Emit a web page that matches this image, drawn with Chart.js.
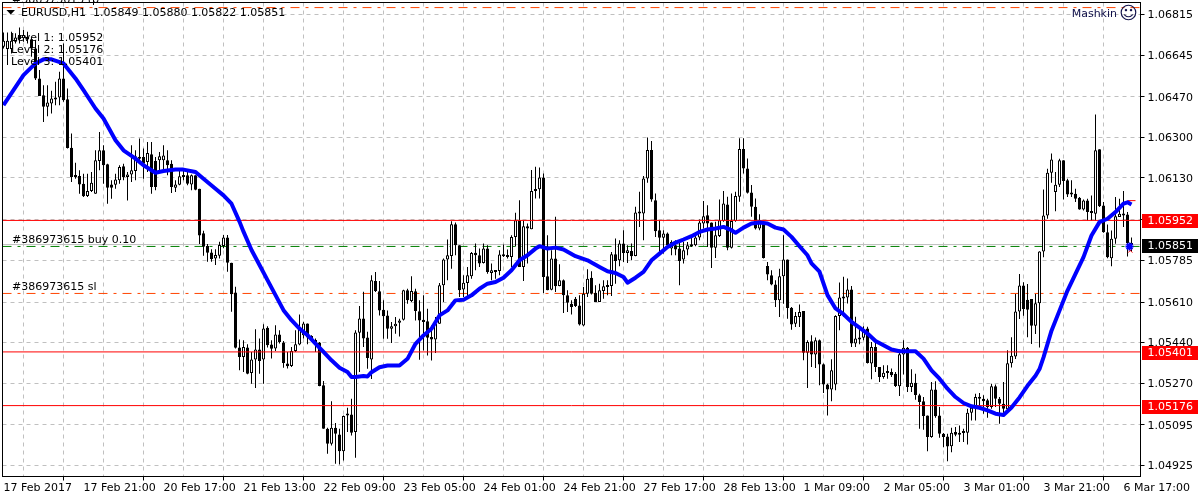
<!DOCTYPE html>
<html>
<head>
<meta charset="utf-8">
<title>EURUSD,H1</title>
<script src="https://cdn.jsdelivr.net/npm/chart.js@4"></script>
<style>
html, body { margin: 0; padding: 0; background: #fff; }
canvas { display: block; }
</style>
</head>
<body>
<canvas id="chart" width="1200" height="500"></canvas>
<script>
const opens = [
1.06680,1.06670,1.06670,1.06701,1.06729,1.06715,1.06722,1.06711,1.06673,1.06547,
1.06477,1.06428,1.06442,1.06463,1.06467,1.06547,1.06460,1.06257,1.06138,1.06138,
1.06106,1.06054,1.06075,1.06064,1.06201,1.06246,1.06187,1.06103,1.06102,1.06120,
1.06179,1.06134,1.06144,1.06159,1.06218,1.06218,1.06197,1.06229,1.06201,1.06204,
1.06204,1.06204,1.06190,1.06089,1.06102,1.06141,1.06141,1.06103,1.06141,1.06085,
1.05898,1.05845,1.05818,1.05793,1.05804,1.05845,1.05881,1.05775,1.05650,1.05419,
1.05380,1.05419,1.05313,1.05369,1.05411,1.05369,1.05502,1.05432,1.05415,1.05474,
1.05440,1.05352,1.05342,1.05405,1.05432,1.05471,1.05520,1.05468,1.05443,1.05440,
1.05261,1.05079,1.05016,1.05083,1.05055,1.04985,1.05139,1.05139,1.05065,1.05481,
1.05541,1.05461,1.05369,1.05698,1.05655,1.05578,1.05554,1.05498,1.05509,1.05523,
1.05536,1.05659,1.05614,1.05655,1.05571,1.05536,1.05529,1.05463,1.05453,1.05519,
1.05680,1.05788,1.05803,1.05936,1.05848,1.05663,1.05690,1.05718,1.05817,1.05806,
1.05774,1.05834,1.05732,1.05743,1.05740,1.05810,1.05806,1.05799,1.05883,1.05953,
1.05757,1.05928,1.05915,1.06075,1.06083,1.06132,1.05718,1.05662,1.05792,1.05677,
1.05701,1.05638,1.05603,1.05624,1.05596,1.05512,1.05645,1.05712,1.05649,1.05610,
1.05656,1.05680,1.05677,1.05810,1.05785,1.05855,1.05816,1.05824,1.05803,1.05981,
1.05981,1.06128,1.06247,1.06037,1.05911,1.05879,1.05897,1.05834,1.05848,1.05834,
1.05788,1.05830,1.05852,1.05848,1.05880,1.05939,1.05974,1.05943,1.05838,1.05887,
1.05950,1.06019,1.05838,1.05950,1.06051,1.06251,1.06170,1.06069,1.06009,1.05918,
1.05946,1.05761,1.05722,1.05684,1.05617,1.05718,1.05788,1.05586,1.05519,1.05547,
1.05572,1.05398,1.05446,1.05390,1.05450,1.05349,1.05264,1.05244,1.05264,1.05551,
1.05625,1.05629,1.05663,1.05436,1.05457,1.05460,1.05499,1.05352,1.05422,1.05338,
1.05296,1.05313,1.05317,1.05310,1.05257,1.05390,1.05418,1.05254,1.05272,1.05219,
1.05194,1.05135,1.05044,1.05243,1.05135,1.05058,1.05047,1.05006,1.05065,1.05054,
1.05062,1.05062,1.05146,1.05170,1.05212,1.05205,1.05198,1.05170,1.05257,1.05205,
1.05184,1.05161,1.05354,1.05382,1.05570,1.05679,1.05620,1.05623,1.05511,1.05605,
1.05822,1.05973,1.06152,1.06071,1.06102,1.06204,1.06120,1.06067,1.06064,1.06047,
1.05998,1.06036,1.05983,1.05980,1.06250,1.06015,1.05903,1.05794,1.05875,1.05966,
1.05977,1.05977,1.05849
];
const closes = [
1.06705,1.06705,1.06705,1.06719,1.06711,1.06729,1.06711,1.06673,1.06547,1.06473,
1.06428,1.06446,1.06463,1.06459,1.06547,1.06456,1.06256,1.06134,1.06134,1.06103,
1.06053,1.06075,1.06110,1.06204,1.06246,1.06183,1.06089,1.06089,1.06124,1.06176,
1.06134,1.06144,1.06162,1.06221,1.06211,1.06190,1.06235,1.06092,1.06092,1.06221,
1.06224,1.06183,1.06092,1.06103,1.06137,1.06134,1.06106,1.06141,1.06081,1.05889,
1.05842,1.05817,1.05790,1.05807,1.05849,1.05881,1.05775,1.05643,1.05418,1.05380,
1.05422,1.05310,1.05369,1.05411,1.05363,1.05499,1.05429,1.05414,1.05474,1.05443,
1.05355,1.05341,1.05405,1.05433,1.05506,1.05520,1.05461,1.05450,1.05450,1.05258,
1.05079,1.05016,1.05083,1.05058,1.04985,1.05132,1.05135,1.05062,1.05482,1.05541,
1.05457,1.05376,1.05701,1.05656,1.05575,1.05550,1.05498,1.05509,1.05519,1.05533,
1.05659,1.05617,1.05656,1.05572,1.05533,1.05526,1.05460,1.05453,1.05519,1.05680,
1.05788,1.05806,1.05936,1.05848,1.05659,1.05691,1.05722,1.05816,1.05806,1.05771,
1.05834,1.05736,1.05743,1.05736,1.05809,1.05802,1.05799,1.05883,1.05953,1.05757,
1.05928,1.05918,1.06075,1.06083,1.06132,1.05715,1.05659,1.05792,1.05676,1.05701,
1.05638,1.05607,1.05589,1.05593,1.05516,1.05645,1.05708,1.05645,1.05610,1.05659,
1.05676,1.05673,1.05810,1.05782,1.05855,1.05816,1.05827,1.05802,1.05985,1.05984,
1.06128,1.06247,1.06040,1.05907,1.05879,1.05897,1.05848,1.05862,1.05830,1.05782,
1.05827,1.05848,1.05844,1.05880,1.05943,1.05970,1.05939,1.05838,1.05890,1.05953,
1.06023,1.05838,1.05950,1.06054,1.06251,1.06170,1.06068,1.06009,1.05918,1.05953,
1.05795,1.05725,1.05683,1.05617,1.05718,1.05788,1.05585,1.05516,1.05551,1.05568,
1.05398,1.05443,1.05390,1.05450,1.05348,1.05264,1.05244,1.05324,1.05551,1.05629,
1.05629,1.05663,1.05436,1.05457,1.05453,1.05489,1.05355,1.05422,1.05338,1.05296,
1.05314,1.05321,1.05303,1.05258,1.05391,1.05418,1.05254,1.05272,1.05220,1.05191,
1.05132,1.05044,1.05243,1.05131,1.05058,1.05044,1.05005,1.05062,1.05054,1.05062,
1.05061,1.05146,1.05167,1.05212,1.05205,1.05194,1.05170,1.05257,1.05205,1.05184,
1.05163,1.05354,1.05385,1.05570,1.05679,1.05581,1.05578,1.05511,1.05605,1.05822,
1.05973,1.06152,1.06207,1.06102,1.06204,1.06117,1.06061,1.06061,1.06043,1.05998,
1.06036,1.05987,1.05991,1.06246,1.06011,1.05903,1.05798,1.05875,1.05970,1.05980,
1.05973,1.05857,1.05851
];
const highs = [
1.06740,1.06740,1.06743,1.06736,1.06761,1.06750,1.06743,1.06722,1.06708,1.06582,
1.06519,1.06519,1.06495,1.06533,1.06575,1.06694,1.06505,1.06316,1.06194,1.06162,
1.06148,1.06148,1.06155,1.06246,1.06323,1.06267,1.06190,1.06120,1.06148,1.06183,
1.06190,1.06155,1.06267,1.06246,1.06295,1.06253,1.06281,1.06281,1.06218,1.06239,
1.06267,1.06246,1.06204,1.06120,1.06169,1.06169,1.06162,1.06145,1.06141,1.06085,
1.05909,1.05853,1.05831,1.05831,1.05863,1.05891,1.05891,1.05775,1.05674,1.05453,
1.05450,1.05433,1.05401,1.05496,1.05457,1.05517,1.05509,1.05450,1.05513,1.05492,
1.05447,1.05401,1.05422,1.05492,1.05558,1.05527,1.05520,1.05471,1.05457,1.05443,
1.05279,1.05083,1.05194,1.05103,1.05079,1.05135,1.05167,1.05205,1.05492,1.05593,
1.05653,1.05485,1.05722,1.05736,1.05698,1.05617,1.05575,1.05526,1.05547,1.05540,
1.05662,1.05666,1.05718,1.05666,1.05617,1.05638,1.05582,1.05512,1.05547,1.05690,
1.05792,1.05872,1.05949,1.05943,1.05848,1.05722,1.05757,1.05820,1.05855,1.05834,
1.05855,1.05848,1.05771,1.05743,1.05827,1.05851,1.05830,1.05890,1.05984,1.06037,
1.05953,1.05939,1.06163,1.06177,1.06174,1.06149,1.05890,1.05827,1.05967,1.05768,
1.05704,1.05659,1.05617,1.05631,1.05638,1.05673,1.05747,1.05739,1.05680,1.05687,
1.05701,1.05701,1.05820,1.05876,1.05869,1.05911,1.05848,1.05855,1.06009,1.06072,
1.06138,1.06300,1.06285,1.06065,1.05953,1.05911,1.05901,1.05869,1.05869,1.05862,
1.05862,1.05862,1.05883,1.05897,1.05956,1.06033,1.06016,1.05943,1.05946,1.06040,
1.06075,1.06051,1.06065,1.06072,1.06296,1.06296,1.06212,1.06100,1.06044,1.05978,
1.05946,1.05778,1.05743,1.05701,1.05750,1.05890,1.05788,1.05589,1.05568,1.05600,
1.05572,1.05450,1.05471,1.05461,1.05453,1.05352,1.05268,1.05370,1.05555,1.05692,
1.05716,1.05709,1.05677,1.05548,1.05499,1.05509,1.05506,1.05443,1.05439,1.05338,
1.05345,1.05345,1.05331,1.05317,1.05411,1.05450,1.05422,1.05328,1.05310,1.05226,
1.05212,1.05135,1.05275,1.05278,1.05170,1.05061,1.05058,1.05083,1.05086,1.05093,
1.05079,1.05163,1.05177,1.05226,1.05229,1.05219,1.05205,1.05268,1.05264,1.05212,
1.05275,1.05408,1.05462,1.05644,1.05728,1.05693,1.05686,1.05623,1.05644,1.05823,
1.06082,1.06169,1.06232,1.06155,1.06211,1.06204,1.06127,1.06120,1.06085,1.06050,
1.06040,1.06043,1.06057,1.06396,1.06250,1.06029,1.05935,1.05910,1.06050,1.06043,
1.06075,1.05987,1.05880
];
const lows = [
1.06673,1.06603,1.06652,1.06694,1.06694,1.06701,1.06694,1.06638,1.06540,1.06473,
1.06365,1.06389,1.06400,1.06435,1.06435,1.06449,1.06253,1.06113,1.06127,1.06064,
1.06050,1.06050,1.06071,1.06064,1.06162,1.06106,1.06022,1.06043,1.06085,1.06106,
1.06120,1.06036,1.06113,1.06120,1.06190,1.06127,1.06155,1.06064,1.06078,1.06162,
1.06162,1.06141,1.06067,1.06071,1.06099,1.06120,1.06099,1.06078,1.06078,1.05853,
1.05804,1.05779,1.05779,1.05765,1.05793,1.05835,1.05737,1.05569,1.05415,1.05324,
1.05317,1.05307,1.05268,1.05250,1.05310,1.05268,1.05419,1.05373,1.05405,1.05436,
1.05335,1.05331,1.05338,1.05401,1.05429,1.05457,1.05433,1.05443,1.05401,1.05257,
1.05079,1.04974,1.05009,1.04932,1.04929,1.04946,1.05065,1.05051,1.04957,1.05317,
1.05422,1.05330,1.05288,1.05652,1.05554,1.05456,1.05456,1.05438,1.05477,1.05466,
1.05533,1.05603,1.05610,1.05533,1.05368,1.05407,1.05386,1.05365,1.05396,1.05519,
1.05610,1.05701,1.05750,1.05806,1.05631,1.05631,1.05631,1.05708,1.05743,1.05757,
1.05771,1.05729,1.05701,1.05708,1.05722,1.05799,1.05792,1.05757,1.05844,1.05757,
1.05698,1.05771,1.05915,1.06044,1.06044,1.05648,1.05659,1.05659,1.05652,1.05676,
1.05564,1.05568,1.05558,1.05589,1.05512,1.05509,1.05631,1.05642,1.05610,1.05610,
1.05624,1.05638,1.05635,1.05687,1.05760,1.05778,1.05774,1.05785,1.05802,1.05925,
1.05869,1.06110,1.06030,1.05883,1.05813,1.05813,1.05834,1.05806,1.05806,1.05680,
1.05771,1.05806,1.05841,1.05844,1.05869,1.05918,1.05841,1.05753,1.05795,1.05883,
1.05946,1.05827,1.05834,1.05946,1.06030,1.06149,1.06065,1.05967,1.05914,1.05911,
1.05792,1.05701,1.05680,1.05589,1.05547,1.05603,1.05540,1.05494,1.05505,1.05505,
1.05366,1.05250,1.05338,1.05334,1.05261,1.05229,1.05135,1.05194,1.05240,1.05492,
1.05548,1.05604,1.05422,1.05422,1.05433,1.05450,1.05352,1.05286,1.05317,1.05275,
1.05289,1.05289,1.05296,1.05254,1.05216,1.05306,1.05233,1.05233,1.05201,1.05079,
1.05075,1.04985,1.05041,1.05125,1.05041,1.05002,1.04943,1.04981,1.05048,1.05023,
1.05023,1.05013,1.05114,1.05114,1.05163,1.05142,1.05125,1.05163,1.05170,1.05100,
1.05142,1.05156,1.05336,1.05371,1.05539,1.05553,1.05462,1.05434,1.05476,1.05420,
1.05798,1.05959,1.06110,1.05991,1.06092,1.06040,1.06050,1.06050,1.06029,1.05997,
1.05994,1.05952,1.05952,1.05952,1.06008,1.05900,1.05794,1.05760,1.05854,1.05966,
1.05924,1.05801,1.05822
];

const maBars = [
0,5,8,10,12,15,18,20,23,25,28,30,33,35,38,40,43,45,48,50,53,55,57,59,60,62,64,66,68,70,
72,74,76,78,80,82,84,86,87,88,90,91,92,94,96,99,101,103,105,107,109,111,113,115,117,119,121,123,125,127,
129,131,133,134,136,138,140,143,146,149,151,153,155,156,158,160,162,164,166,168,170,172,174,176,178,180,182,183,185,187,
189,191,193,195,197,199,201,202,204,206,208,210,212,214,216,218,220,222,224,228,230,232,234,236,238,240,242,244,246,248,
250,252,254,256,258,259,260,262,264,266,268,270,272,274,276,278,280,281,282
];
const maValues = [
1.06435,1.06561,1.06610,1.06627,1.06627,1.06610,1.06547,1.06498,1.06421,1.06379,1.06288,1.06246,1.06211,1.06183,1.06152,1.06159,1.06165,1.06165,1.06155,1.06127,1.06085,1.06057,1.06022,1.05947,1.05905,1.05828,1.05765,1.05702,1.05639,1.05576,
1.05534,1.05499,1.05471,1.05436,1.05401,1.05366,1.05335,1.05317,1.05296,1.05296,1.05300,1.05298,1.05316,1.05337,1.05344,1.05344,1.05372,1.05435,1.05470,1.05498,1.05554,1.05575,1.05617,1.05620,1.05638,1.05666,1.05687,1.05694,1.05712,1.05743,
1.05785,1.05806,1.05834,1.05844,1.05834,1.05838,1.05830,1.05802,1.05785,1.05757,1.05739,1.05732,1.05715,1.05691,1.05712,1.05736,1.05785,1.05813,1.05841,1.05859,1.05872,1.05886,1.05904,1.05914,1.05918,1.05925,1.05911,1.05900,1.05922,1.05939,
1.05943,1.05939,1.05922,1.05914,1.05883,1.05844,1.05806,1.05772,1.05737,1.05639,1.05583,1.05559,1.05527,1.05503,1.05478,1.05447,1.05429,1.05411,1.05404,1.05404,1.05373,1.05324,1.05289,1.05247,1.05212,1.05187,1.05173,1.05167,1.05156,1.05142,
1.05137,1.05168,1.05210,1.05259,1.05301,1.05329,1.05378,1.05490,1.05574,1.05658,1.05728,1.05798,1.05889,1.05945,1.05959,1.05987,1.06022,1.06028,1.06019
];

const priceTicks = [1.06815,1.06645,1.06470,1.06300,1.06130,1.05955,1.05785,1.05610,1.05440,1.05270,1.05095,1.04925];
const timeTicks = [0,10,20,30,40,50,60,70,80,90,100,110,120,130,140,150,160,170,180,190,200,210,220,230,240,250,260,270,280];
const timeLabels = ['17 Feb 2017','17 Feb 21:00','20 Feb 17:00','21 Feb 13:00','22 Feb 09:00','23 Feb 05:00','24 Feb 01:00','24 Feb 21:00','27 Feb 17:00','28 Feb 13:00','1 Mar 09:00','2 Mar 05:00','3 Mar 01:00','3 Mar 21:00','6 Mar 17:00'];

const levelRed = [1.05952,1.05401,1.05176];
const bidPrice = 1.05851;
const buyPrice = 1.05843;
const slPrice = 1.05646;
const tpPrice = 1.06844;
const stubPrice = 1.06035;

const XMIN = -0.25, XMAX = 284.25;
const FONT = '11px "DejaVu Sans"';

function hline(y, color, dash, order) {
  return {
    type: 'line',
    data: [{x: XMIN, y: y}, {x: XMAX, y: y}],
    borderColor: color,
    borderWidth: 1,
    borderDash: dash,
    pointRadius: 0,
    order: order
  };
}

const bars = opens.map((o, i) => i);

const overlay = {
  id: 'overlay',
  afterDraw(chart) {
    const ctx = chart.ctx;
    const area = chart.chartArea;
    const yScale = chart.scales.y;
    ctx.save();
    ctx.strokeStyle = '#000';
    ctx.lineWidth = 1;
    ctx.strokeRect(area.left, area.top, area.right - area.left, area.bottom - area.top);

    ctx.font = FONT;
    ctx.textBaseline = 'middle';
    ctx.textAlign = 'left';

    // price boxes on the right axis
    levelRed.concat([bidPrice]).forEach(p => {
      const y = Math.round(yScale.getPixelForValue(p));
      ctx.fillStyle = p === bidPrice ? '#000' : '#ff0000';
      ctx.fillRect(1142, y - 6, 56, 14);
      ctx.fillStyle = '#fff';
      ctx.fillText(p.toFixed(5), 1147.5, y + 1);
    });

    ctx.fillStyle = '#000';
    ctx.beginPath();
    ctx.moveTo(6.5, 10);
    ctx.lineTo(15, 10);
    ctx.lineTo(10.75, 14.5);
    ctx.closePath();
    ctx.fill();

    ctx.fillStyle = '#000';
    ctx.fillText('EURUSD,H1  1.05849 1.05880 1.05822 1.05851', 21, 13);
    ctx.fillText('#386973615 tp', 12, 0);
    ctx.fillText('Level 1: 1.05952', 11, 38);
    ctx.fillText('Level 2: 1.05176', 11, 50);
    ctx.fillText('Level 3: 1.05401', 11, 62);
    ctx.fillText('#386973615 buy 0.10', 12, 240.5);
    ctx.fillText('#386973615 sl', 12, 287.5);

    ctx.fillStyle = '#10104a';
    ctx.textAlign = 'right';
    ctx.fillText('Mashkin', 1117, 14);
    ctx.textAlign = 'center';
    ctx.font = '18px "DejaVu Sans"';
    ctx.fillText('\u263A', 1128.5, 14.5);
    ctx.restore();
  }
};

new Chart(document.getElementById('chart'), {
  type: 'bar',
  plugins: [overlay],
  data: {
    datasets: [
      // order: lower is drawn on top
      hline(bidPrice, '#c0c0c0', [], 9),
      hline(buyPrice, '#008000', [9, 6, 3, 6], 8),
      hline(slPrice, '#ff4500', [9, 6, 3, 6], 8),
      hline(tpPrice, '#ff4500', [9, 6, 3, 6], 8),
      {
        data: bars.map(i => ({x: i, y: [lows[i], highs[i]]})),
        backgroundColor: '#000',
        borderWidth: 0,
        barThickness: 1,
        inflateAmount: 0,
        grouped: false,
        order: 6
      },
      {
        data: bars.map(i => ({x: i, y: [Math.min(opens[i], closes[i]), Math.max(opens[i], closes[i])]})),
        backgroundColor: bars.map(i => closes[i] >= opens[i] ? '#fff' : '#000'),
        borderColor: '#000',
        borderWidth: 1,
        borderSkipped: false,
        barThickness: 3,
        minBarLength: 2,
        inflateAmount: 0,
        grouped: false,
        order: 5
      },
      hline(levelRed[0], '#ff0000', [], 4),
      hline(levelRed[1], '#ff0000', [], 4),
      hline(levelRed[2], '#ff0000', [], 4),
      {
        type: 'line',
        data: [{x: 281, y: stubPrice}, {x: 283, y: stubPrice}],
        borderColor: '#ff0000',
        borderWidth: 1,
        pointRadius: 0,
        order: 3
      },
      {
        type: 'line',
        data: maBars.map((b, k) => ({x: b, y: maValues[k]})),
        borderColor: '#0000ff',
        borderWidth: 4,
        pointRadius: 0,
        tension: 0,
        borderJoinStyle: 'round',
        order: 2
      },
      {
        type: 'line',
        showLine: false,
        data: [{x: 281.7, y: 1.05826}],
        pointStyle: 'crossRot',
        pointRadius: 3,
        borderColor: '#ff0000',
        borderWidth: 1,
        order: 1
      },
      {
        type: 'line',
        showLine: false,
        data: [{x: 281.5, y: buyPrice}],
        pointStyle: 'star',
        pointRadius: 4,
        borderColor: '#0000ff',
        borderWidth: 2,
        order: 0
      }
    ]
  },
  options: {
    responsive: false,
    animation: false,
    events: [],
    layout: { autoPadding: false, padding: { left: 2.5, top: 2.5, right: 0, bottom: 0 } },
    plugins: { legend: { display: false }, tooltip: { enabled: false } },
    scales: {
      x: {
        type: 'linear',
        position: 'bottom',
        min: XMIN,
        max: XMAX,
        offset: false,
        afterBuildTicks: s => { s.ticks = timeTicks.map(v => ({value: v})); },
        afterFit: s => { s.height = 23.5; s.paddingLeft = 0; s.paddingRight = 0; },
        border: { color: '#000', dash: [4, 4] },
        grid: {
          color: c => (c.tick && c.tick.value === 0) ? 'rgba(0,0,0,0)' : '#c0c0c0',
          tickColor: c => (c.tick && c.tick.value % 20 === 0) ? '#000' : 'rgba(0,0,0,0)',
          tickLength: 4,
          tickBorderDash: []
        },
        ticks: {
          autoSkip: false,
          maxRotation: 0,
          minRotation: 0,
          align: 'start',
          padding: 1,
          color: '#000',
          font: { family: 'DejaVu Sans', size: 11 },
          callback: v => v % 20 === 0 ? timeLabels[v / 20] : ''
        }
      },
      y: {
        position: 'right',
        min: 1.048789,
        max: 1.068653,
        afterBuildTicks: s => { s.ticks = priceTicks.map(v => ({value: v})); },
        // the top label would otherwise push the plot down
        afterFit: s => { s.width = 59.5; s.paddingTop = 0; s.paddingBottom = 0; },
        border: { color: '#000', dash: [4, 4] },
        grid: {
          color: '#c0c0c0',
          tickColor: '#000',
          tickLength: 4,
          tickBorderDash: []
        },
        ticks: {
          autoSkip: false,
          padding: 3,
          labelOffset: 1,
          color: '#000',
          font: { family: 'DejaVu Sans', size: 11 },
          callback: v => v.toFixed(5)
        }
      }
    }
  }
});
</script>
</body>
</html>
